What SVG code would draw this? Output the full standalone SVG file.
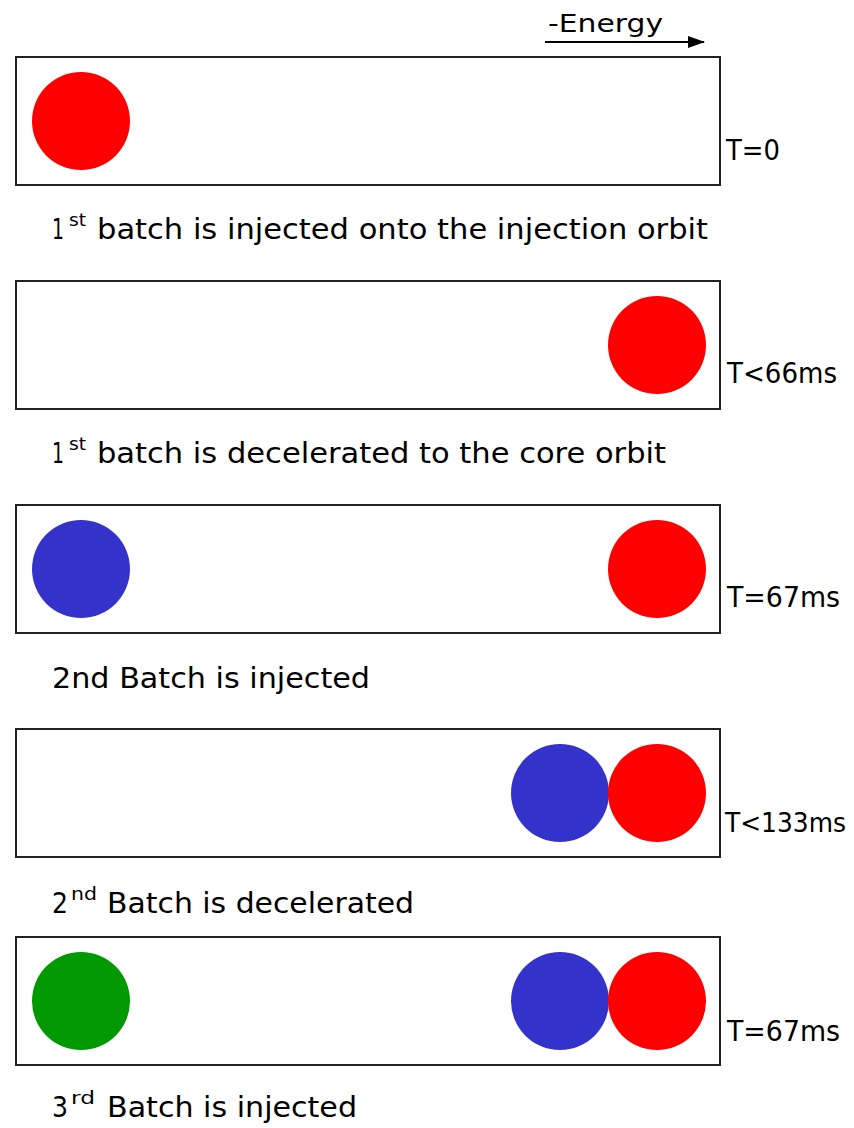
<svg xmlns="http://www.w3.org/2000/svg" width="854" height="1128" viewBox="0 0 854 1128">
<defs>
<style>
.box{fill:#fff;stroke:#222;stroke-width:2}
.red{fill:#ff0000}
.blue{fill:#3333cc}
.green{fill:#009900}
.t{font-family:"DejaVu Sans","Open Sans",sans-serif;fill:#000}
.cap{font-size:29px}
.sup{font-size:18px}
.lab{font-size:28px}
</style>
<marker id="arr" markerWidth="17" markerHeight="12" refX="16" refY="6" orient="auto" markerUnits="userSpaceOnUse">
<path d="M0,0 L17,6 L0,12 Z" fill="#000"/>
</marker>
</defs>
<rect width="854" height="1128" fill="#fff"/>
<g id="energy-axis">
<text class="t" x="548" y="32" font-size="25" textLength="115" lengthAdjust="spacingAndGlyphs">-Energy</text>
<line x1="545" y1="42" x2="704" y2="42" stroke="#000" stroke-width="2" marker-end="url(#arr)"/>
</g>
<g id="step1">
<rect class="box" x="16" y="57" width="704" height="128"/>
<circle class="red" cx="81" cy="121" r="49"/>
<text class="t lab" x="726" y="160" textLength="54" lengthAdjust="spacingAndGlyphs">T=0</text>
<text class="t cap" x="52" y="239" textLength="12" lengthAdjust="spacingAndGlyphs">1</text>
<text class="t sup" x="69" y="226" textLength="17" lengthAdjust="spacingAndGlyphs">st</text>
<text class="t cap" x="97" y="239" textLength="611" lengthAdjust="spacingAndGlyphs">batch is injected onto the injection orbit</text>
</g>
<g id="step2">
<rect class="box" x="16" y="281" width="704" height="128"/>
<circle class="red" cx="657" cy="345" r="49"/>
<text class="t lab" x="727" y="383" textLength="110" lengthAdjust="spacingAndGlyphs">T&lt;66ms</text>
<text class="t cap" x="52" y="463" textLength="12" lengthAdjust="spacingAndGlyphs">1</text>
<text class="t sup" x="69" y="450" textLength="17" lengthAdjust="spacingAndGlyphs">st</text>
<text class="t cap" x="97" y="463" textLength="569" lengthAdjust="spacingAndGlyphs">batch is decelerated to the core orbit</text>
</g>
<g id="step3">
<rect class="box" x="16" y="505" width="704" height="128"/>
<circle class="blue" cx="81" cy="569" r="49"/>
<circle class="red" cx="657" cy="569" r="49"/>
<text class="t lab" x="727" y="607" textLength="113" lengthAdjust="spacingAndGlyphs">T=67ms</text>
<text class="t cap" x="52" y="688" textLength="318" lengthAdjust="spacingAndGlyphs">2nd Batch is injected</text>
</g>
<g id="step4">
<rect class="box" x="16" y="729" width="704" height="128"/>
<circle class="blue" cx="560" cy="793" r="49"/>
<circle class="red" cx="657" cy="793" r="49"/>
<text class="t" x="725" y="832" font-size="26" textLength="121" lengthAdjust="spacingAndGlyphs">T&lt;133ms</text>
<text class="t cap" x="52" y="913" textLength="16" lengthAdjust="spacingAndGlyphs">2</text>
<text class="t sup" x="71" y="900" textLength="26" lengthAdjust="spacingAndGlyphs">nd</text>
<text class="t cap" x="107" y="913" textLength="307" lengthAdjust="spacingAndGlyphs">Batch is decelerated</text>
</g>
<g id="step5">
<rect class="box" x="16" y="937" width="704" height="128"/>
<circle class="green" cx="81" cy="1001" r="49"/>
<circle class="blue" cx="560" cy="1001" r="49"/>
<circle class="red" cx="657" cy="1001" r="49"/>
<text class="t lab" x="727" y="1041" textLength="113" lengthAdjust="spacingAndGlyphs">T=67ms</text>
<text class="t cap" x="52" y="1117" textLength="16" lengthAdjust="spacingAndGlyphs">3</text>
<text class="t sup" x="71" y="1104" textLength="24" lengthAdjust="spacingAndGlyphs">rd</text>
<text class="t cap" x="107" y="1117" textLength="250" lengthAdjust="spacingAndGlyphs">Batch is injected</text>
</g>
</svg>
